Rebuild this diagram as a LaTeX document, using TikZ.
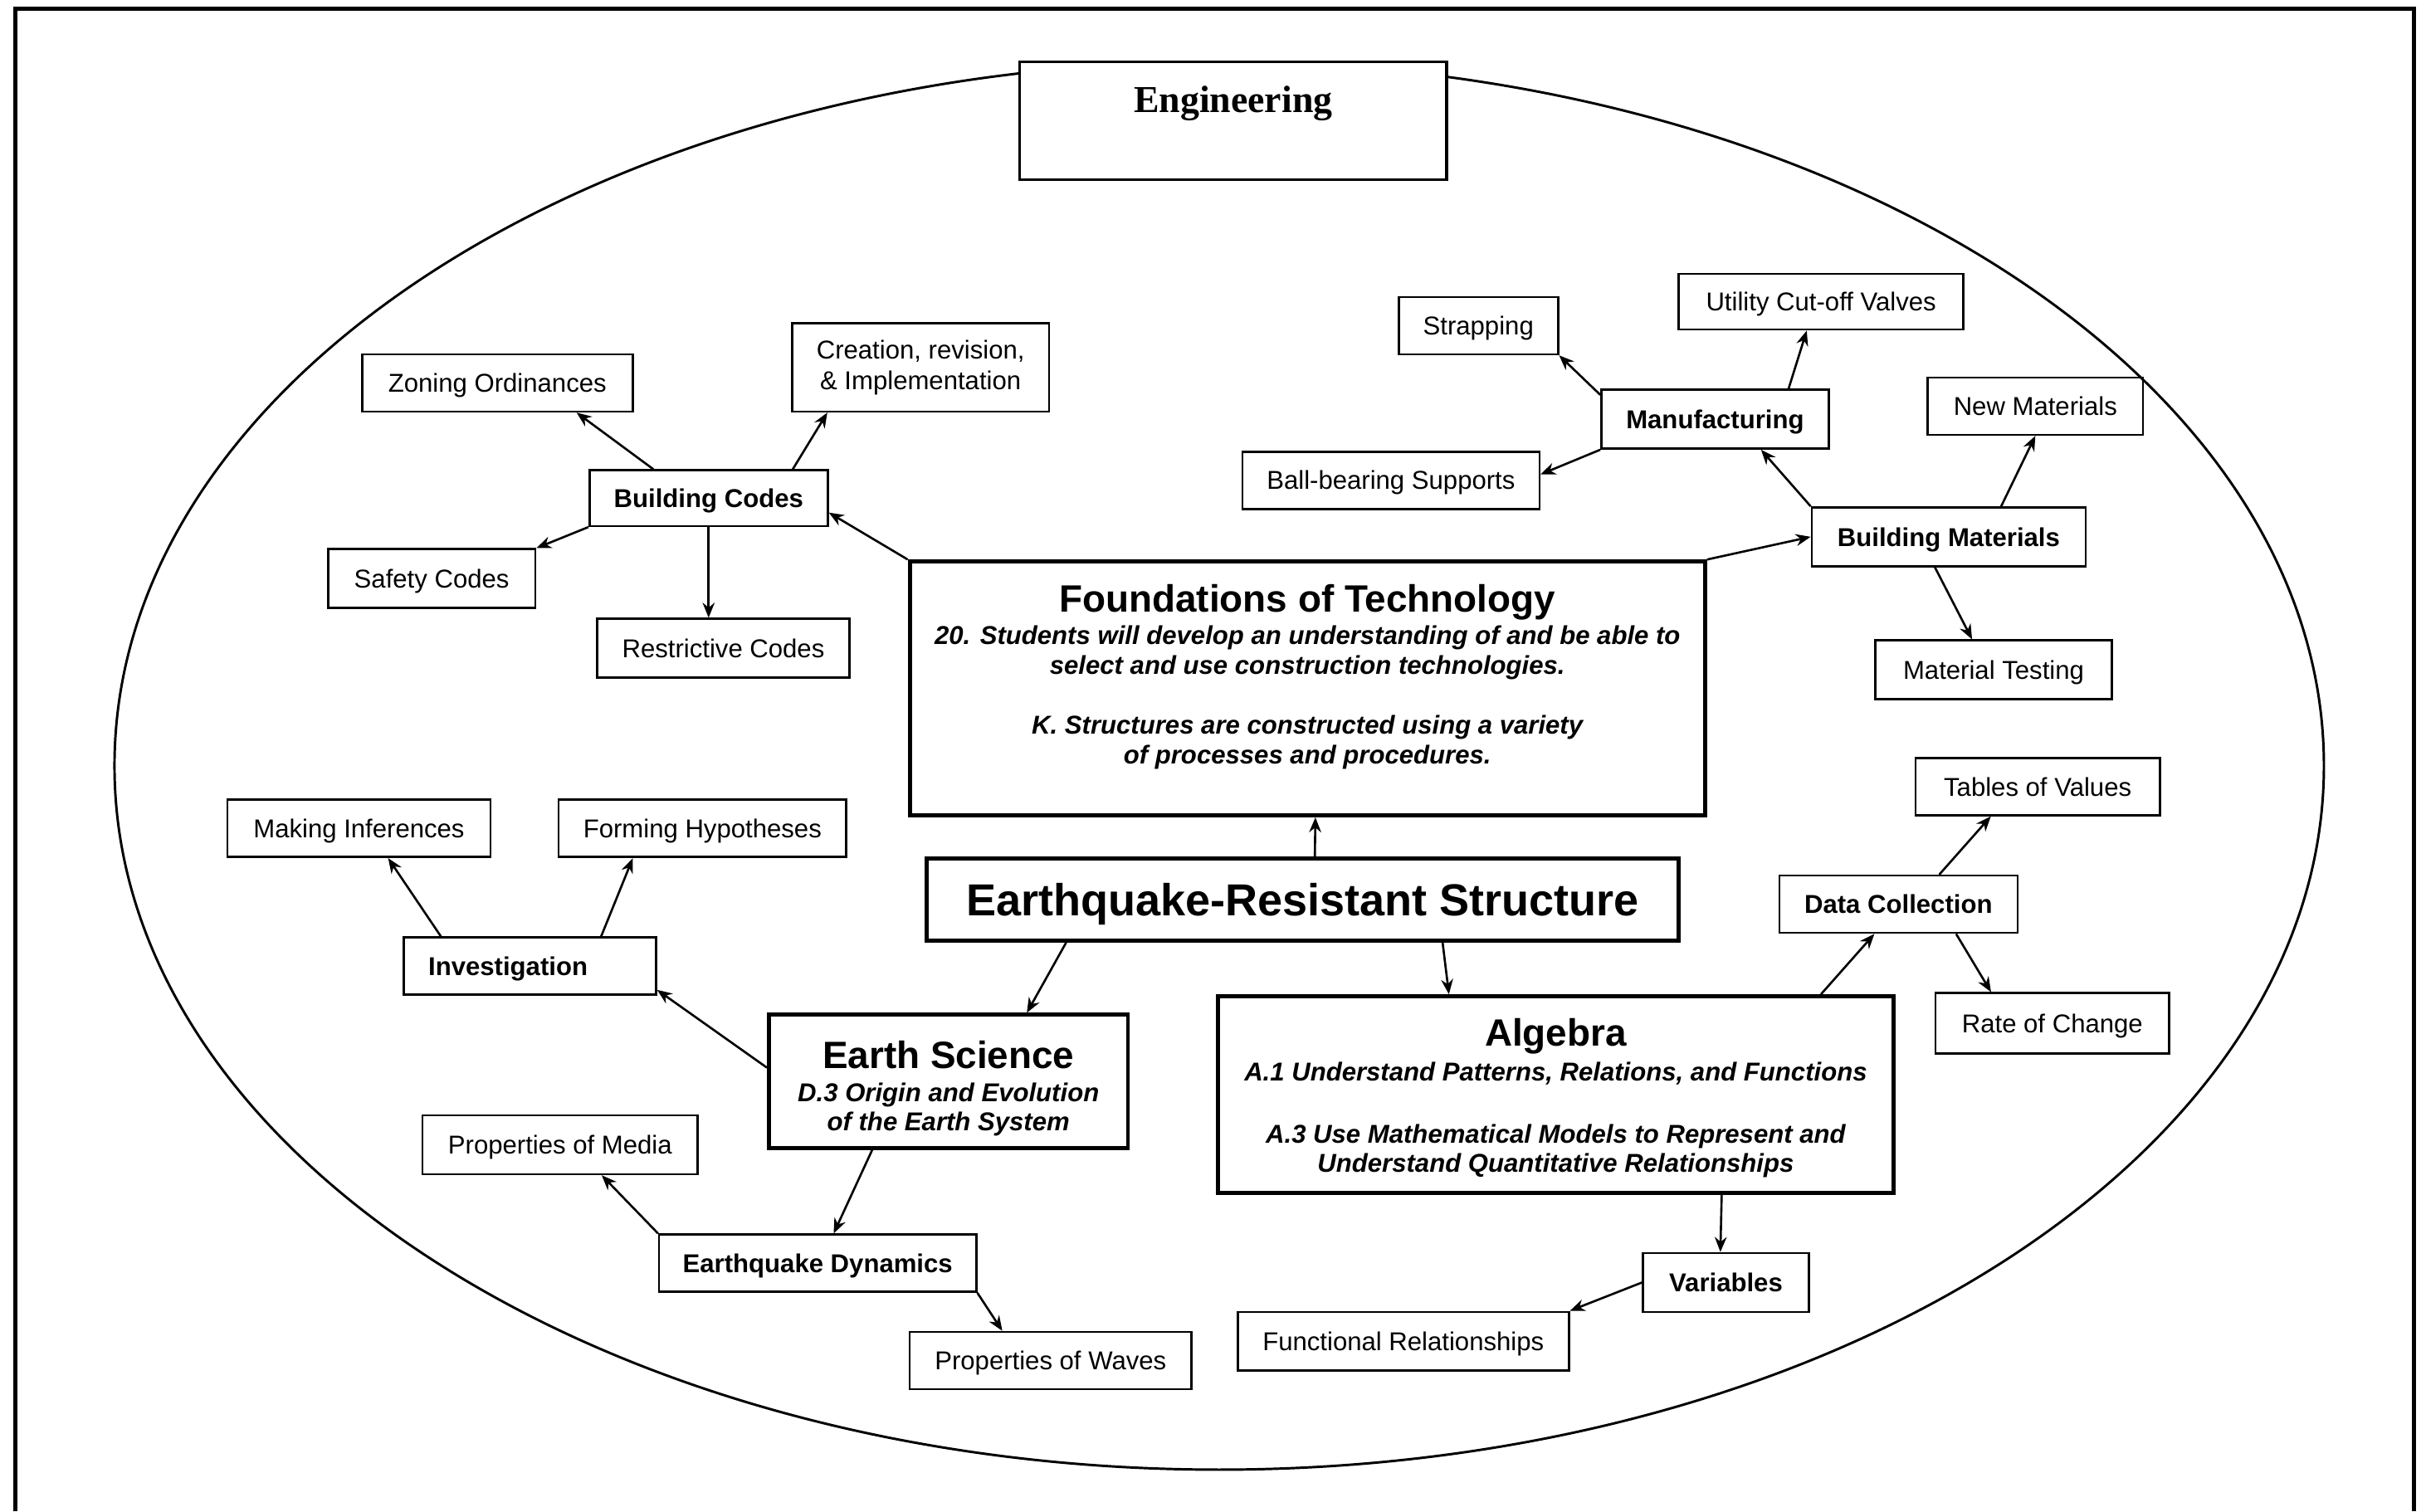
\documentclass[tikz,border=0pt]{standalone}
\usepackage{fontspec}
\setmainfont{Liberation Sans}
\newfontfamily\engfont{Liberation Serif}
\usetikzlibrary{arrows.meta,calc}
\newcommand{\bigttl}[1]{{\fontsize{14}{16}\selectfont\upshape #1}}
\tikzset{
  plainbox/.style={draw,line width=0.8pt,inner sep=0pt,align=center,
    font=\fontsize{9.5}{11.4}\selectfont},
  box/.style={plainbox,text height=6.8pt,text depth=0pt},
  boldbox/.style={box,font=\fontsize{9.5}{11.4}\selectfont\bfseries},
  mainbox/.style={draw,line width=1.5pt,inner sep=0pt},
  maintext/.style={align=center,inner sep=0pt,
    font=\fontsize{9.5}{10.8}\selectfont\bfseries\itshape},
  wh/.style 2 args={minimum width=#1*0.02cm,minimum height=#2*0.02cm},
  arr/.style={-{Stealth[length=5.5pt,width=4.4pt]},line width=0.8pt},
}
\begin{document}
\begin{tikzpicture}[x=0.02cm,y=-0.02cm]
    \useasboundingbox (0,0) rectangle (1568,977);
    \draw [line width=1.5pt] (10,977) -- (10,5.5) -- (1560,5.5) -- (1560,977);
    \draw [line width=0.9pt] (788,495) ellipse [x radius=714, y radius=455];

    \node [draw,fill=white,line width=1pt,wh={276}{76},inner ysep=0pt,
    text height=18.5pt,text depth=24.6pt,
    font=\engfont\fontsize{14}{16}\selectfont\bfseries] (eng) at (797,78) {Engineering};

    \node [mainbox,wh={514}{164}] (fot) at (845,445) {};
    \node [maintext] (fottxt) at (845,437.5) {\bigttl{Foundations of Technology}\\[1.2pt]
      20. Students will develop an understanding of and be able to\\
      select and use construction technologies.\\[11.4pt]
      K. Structures are constructed using a variety\\
      of processes and procedures.};

    \node [mainbox,wh={486}{53},text height=11.8pt,text depth=0pt,
    font=\fontsize{16.5}{19}\selectfont\bfseries]
    (ers) at (842,581.5) {Earthquake-Resistant Structure};

    \node [mainbox,maintext,wh={232}{86}] (es) at (613,699)
    {\bigttl{\rule{0pt}{15.4pt}Earth Science}\\[1.5pt]
      D.3 Origin and Evolution\\ of the Earth System};

    \node [mainbox,maintext,wh={437}{127}] (alg) at (1005.5,707.5)
    {\bigttl{\rule{0pt}{13pt}Algebra}\\[2pt]
      A.1 Understand Patterns, Relations, and Functions\\[12pt]
      A.3 Use Mathematical Models to Represent and\\
      Understand Quantitative Relationships};

    \node [box,wh={175}{37}] (zo) at (321.5,247.5) {Zoning Ordinances};
    \node [plainbox,wh={166}{57}] (cr) at (595,237.5) {Creation, revision,\\ \& Implementation};
    \node [boldbox,wh={154}{36}] (bc) at (458,322) {Building Codes};
    \node [box,wh={134}{38}] (sc) at (279,374) {Safety Codes};
    \node [box,wh={163}{38}] (rc) at (467.5,419) {Restrictive Codes};

    \node [box,wh={103}{37}] (st) at (955.5,210.5) {Strapping};
    \node [box,wh={184}{36}] (ut) at (1177,195) {Utility Cut-off Valves};
    \node [boldbox,wh={147}{38}] (mf) at (1108.5,271) {Manufacturing};
    \node [box,wh={192}{37}] (bb) at (899,310.5) {Ball-bearing Supports};
    \node [box,wh={139}{37}] (nm) at (1315.5,262.5) {New Materials};
    \node [boldbox,wh={177}{38}] (bm) at (1259.5,347) {Building Materials};
    \node [box,wh={153}{38}] (mt) at (1288.5,433) {Material Testing};

    \node [box,wh={158}{37}] (tv) at (1317,508.5) {Tables of Values};
    \node [boldbox,wh={154}{37}] (dc) at (1227,584.5) {Data Collection};
    \node [box,wh={151}{39}] (roc) at (1326.5,661.5) {Rate of Change};
    \node [boldbox,wh={107}{38}] (var) at (1115.5,829) {Variables};
    \node [box,wh={214}{38}] (fr) at (907,867) {Functional Relationships};

    \node [box,wh={170}{37}] (mi) at (232,535.5) {Making Inferences};
    \node [box,wh={186}{37}] (fh) at (454,535.5) {Forming Hypotheses};
    \node [boldbox,wh={163}{37},inner xsep=9pt,text width=74.7pt,align=left]
    (inv) at (342.5,624.5) {Investigation};
    \node [box,wh={178}{38}] (pm) at (362,740) {Properties of Media};
    \node [boldbox,wh={205}{37}] (ed) at (528.5,816.5) {Earthquake Dynamics};
    \node [box,wh={182}{37}] (pw) at (679,879.5) {Properties of Waves};

    \draw [arr] ($(ers.north west)!.516!(ers.north east)$) -- ($(fot.south west)!.51!(fot.south east)$);
    \draw [arr] ($(ers.south west)!.187!(ers.south east)$) -- ($(es.north west)!.716!(es.north east)$);
    \draw [arr] ($(ers.south west)!.685!(ers.south east)$) -- ($(alg.north west)!.343!(alg.north east)$);

    \draw [arr] (fot.north west) -- ($(bc.south east)!.25!(bc.north east)$);
    \draw [arr] ($(bc.north west)!.27!(bc.north east)$) -- ($(zo.south west)!.79!(zo.south east)$);
    \draw [arr] ($(bc.north west)!.85!(bc.north east)$) -- ($(cr.south west)!.14!(cr.south east)$);
    \draw [arr] (bc.south west) -- (sc.north east);
    \draw [arr] (bc.south) -- (bc.south |- rc.north);

    \draw [arr] (fot.north east) -- (bm.west);
    \draw [arr] (bm.north west) -- ($(mf.south west)!.70!(mf.south east)$);
    \draw [arr] ($(bm.north west)!.69!(bm.north east)$) -- (nm.south);
    \draw [arr] ($(bm.south west)!.45!(bm.south east)$) -- ($(mt.north west)!.41!(mt.north east)$);
    \draw [arr] ($(mf.north west)!.1!(mf.south west)$) -- (st.south east);
    \draw [arr] ($(mf.north west)!.82!(mf.north east)$) -- ($(ut.south west)!.45!(ut.south east)$);
    \draw [arr] (mf.south west) -- ($(bb.north east)!.4!(bb.south east)$);

    \draw [arr] ($(alg.north west)!.89!(alg.north east)$) -- ($(dc.south west)!.40!(dc.south east)$);
    \draw [arr] ($(dc.north west)!.67!(dc.north east)$) -- ($(tv.south west)!.31!(tv.south east)$);
    \draw [arr] ($(dc.south west)!.74!(dc.south east)$) -- ($(roc.north west)!.24!(roc.north east)$);
    \draw [arr] ($(alg.south west)!.744!(alg.south east)$) -- ($(var.north west)!.467!(var.north east)$);
    \draw [arr] (var.west) -- (fr.north east);

    \draw [arr] ($(es.north west)!.4!(es.south west)$) -- ($(inv.south east)!.1!(inv.north east)$);
    \draw [arr] ($(es.south west)!.29!(es.south east)$) -- ($(ed.north west)!.55!(ed.north east)$);
    \draw [arr] ($(inv.north west)!.15!(inv.north east)$) -- ($(mi.south west)!.61!(mi.south east)$);
    \draw [arr] ($(inv.north west)!.78!(inv.north east)$) -- ($(fh.south west)!.26!(fh.south east)$);
    \draw [arr] (ed.north west) -- ($(pm.south west)!.65!(pm.south east)$);
    \draw [arr] (ed.south east) -- ($(pw.north west)!.33!(pw.north east)$);
  \end{tikzpicture}
\end{document}
